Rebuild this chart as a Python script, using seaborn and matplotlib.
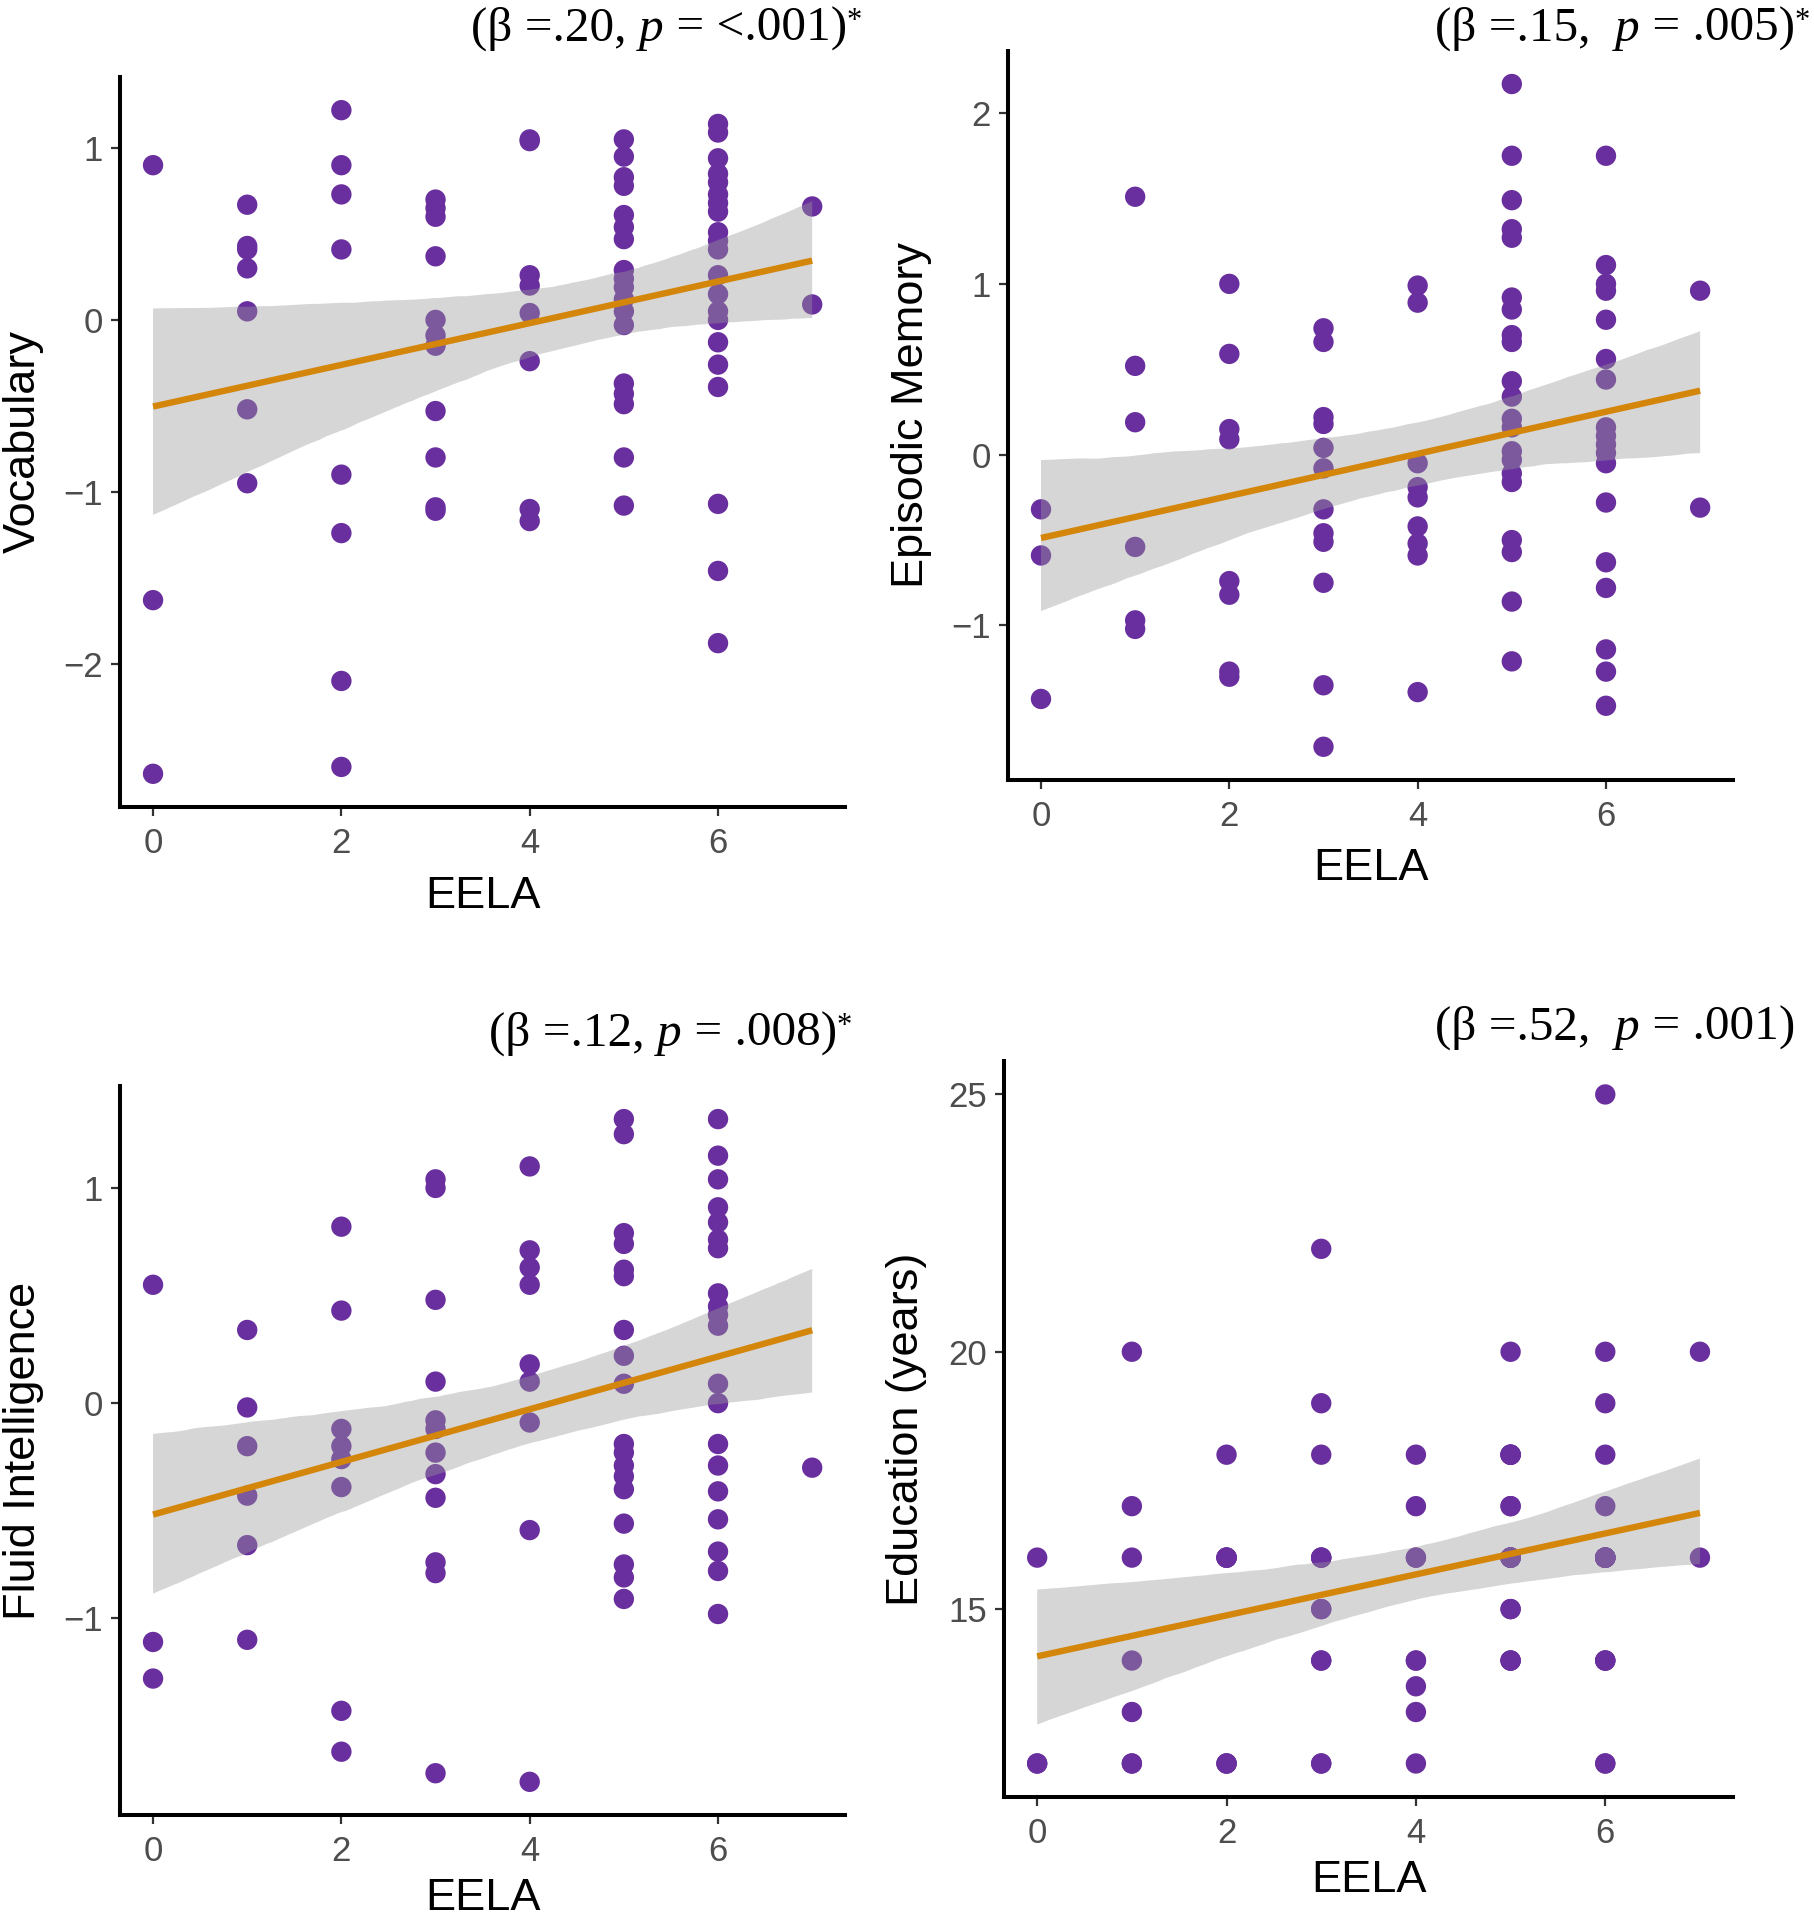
import numpy as np
import pandas as pd
import matplotlib
matplotlib.use("Agg")
import matplotlib.pyplot as plt
import seaborn as sns
from matplotlib.collections import PolyCollection
from matplotlib.offsetbox import TextArea, HPacker, AnchoredOffsetbox

# ---------------- data (y values listed per EELA level 0..7) ----------------
eela_levels = [0, 1, 2, 3, 4, 5, 6, 7]

vocabulary = [
    [0.90, -1.63, -2.64],
    [0.67, 0.43, 0.41, 0.30, 0.05, -0.52, -0.95],
    [1.22, 0.90, 0.73, 0.41, -0.90, -1.24, -2.10, -2.60],
    [0.70, 0.65, 0.60, 0.37, 0.00, -0.09, -0.15, -0.53, -0.80, -1.09, -1.11],
    [1.05, 1.04, 0.26, 0.20, 0.04, -0.24, -1.10, -1.17],
    [1.05, 0.95, 0.83, 0.78, 0.61, 0.54, 0.47, 0.29, 0.24, 0.19, 0.12, 0.05,
     -0.03, -0.37, -0.43, -0.49, -0.80, -1.08],
    [1.14, 1.09, 0.94, 0.85, 0.80, 0.73, 0.68, 0.63, 0.51, 0.46, 0.41, 0.26,
     0.15, 0.05, 0.00, -0.13, -0.26, -0.39, -1.07, -1.46, -1.88],
    [0.66, 0.09],
]

episodic_memory = [
    [-0.32, -0.59, -1.43],
    [1.51, 0.52, 0.19, -0.54, -0.97, -1.02],
    [1.00, 0.59, 0.15, 0.09, -0.74, -0.82, -1.27, -1.30],
    [0.74, 0.66, 0.22, 0.18, 0.04, -0.08, -0.32, -0.46, -0.51, -0.75, -1.35, -1.71],
    [0.99, 0.89, -0.05, -0.19, -0.25, -0.42, -0.52, -0.59, -1.39],
    [2.17, 1.75, 1.49, 1.32, 1.27, 0.92, 0.85, 0.70, 0.66, 0.43, 0.34, 0.21,
     0.16, 0.02, -0.03, -0.11, -0.16, -0.50, -0.57, -0.86, -1.21],
    [1.75, 1.11, 1.00, 0.96, 0.79, 0.56, 0.44, 0.16, 0.11, 0.06, 0.01, -0.05,
     -0.28, -0.63, -0.78, -1.14, -1.27, -1.47],
    [0.96, -0.31],
]

fluid_intelligence = [
    [0.55, -1.11, -1.28],
    [0.34, -0.02, -0.20, -0.43, -0.66, -1.10],
    [0.82, 0.43, -0.12, -0.20, -0.26, -0.39, -1.43, -1.62],
    [1.04, 1.00, 0.48, 0.10, -0.08, -0.12, -0.23, -0.33, -0.44, -0.74, -0.79, -1.72],
    [1.10, 0.71, 0.63, 0.55, 0.18, 0.10, -0.09, -0.59, -1.76],
    [1.32, 1.25, 0.79, 0.74, 0.62, 0.59, 0.34, 0.22, 0.09, -0.19, -0.23, -0.29,
     -0.34, -0.40, -0.56, -0.75, -0.81, -0.91],
    [1.32, 1.15, 1.04, 0.91, 0.84, 0.76, 0.72, 0.51, 0.45, 0.41, 0.36, 0.09,
     0.00, -0.19, -0.29, -0.41, -0.54, -0.69, -0.78, -0.98],
    [-0.30],
]

# education is in whole years, so many participants share a dot (overlapping points)
education_years = [
    [16, 12, 12],
    [20, 17, 16, 14, 13, 12, 12],
    [18, 16, 16, 16, 16, 12, 12, 12],
    [22, 19, 18, 16, 16, 15, 15, 14, 14, 12, 12, 16],
    [18, 17, 16, 16, 14, 14, 13.5, 13, 12],
    [20, 18, 18, 18, 18, 17, 17, 16, 16, 16, 16, 16, 16, 16, 15, 15, 14, 14, 14],
    [25, 20, 19, 18, 17, 16, 16, 16, 16, 16, 16, 16, 16, 16, 16, 14, 14, 14, 12, 12],
    [20, 16],
]

panel_ylabels = ["Vocabulary", "Episodic Memory", "Fluid Intelligence", "Education (years)"]
panel_yticks = [[-2, -1, 0, 1], [-1, 0, 1, 2], [-1, 0, 1], [15, 20, 25]]
x_ticks = [0, 2, 4, 6]
x_label = "EELA"

# annotation texts: (before p, p, after p, starred)
panel_titles = [
    ("(β =.20, ", "p", " = <.001)", True),
    ("(β =.15,  ", "p", " = .005)", True),
    ("(β =.12, ", "p", " = .008)", True),
    ("(β =.52,  ", "p", " = .001)", False),
]

# ---------------- style ----------------
POINT = "#6A2F9E"
LINE = "#D4860B"
SANS = "Liberation Sans"
SERIF = "Liberation Serif"

sns.set_theme(style="ticks")
plt.rcParams["font.family"] = [SANS, "DejaVu Sans"]

fig = plt.figure(figsize=(18.14, 19.20), dpi=100)

# axes rectangles (figure fractions)
rects = [
    [0.0662, 0.5797, 0.3997, 0.3802],
    [0.5557, 0.5938, 0.3997, 0.3797],
    [0.0662, 0.0547, 0.3997, 0.3797],
    [0.5535, 0.0641, 0.4019, 0.3833],
]
title_anchor = [(0.4752, 0.9734), (0.9978, 0.9734), (0.4697, 0.4500), (0.9896, 0.4531)]
xlabel_y = [-0.095, -0.093, -0.086, -0.086]

all_data = [vocabulary, episodic_memory, fluid_intelligence, education_years]

for i, values in enumerate(all_data):
    xs, ys = [], []
    for lvl, vals in zip(eela_levels, values):
        xs += [lvl] * len(vals)
        ys += list(vals)
    df = pd.DataFrame({"EELA": xs, "score": ys})

    ax = fig.add_axes(rects[i])
    sns.scatterplot(data=df, x="EELA", y="score", color=POINT, s=215,
                    edgecolor="none", linewidth=0, ax=ax, zorder=2, legend=False)
    sns.regplot(data=df, x="EELA", y="score", scatter=False, color=LINE,
                ci=95, n_boot=2000, seed=3, truncate=True,
                line_kws=dict(lw=4.6, zorder=4, solid_capstyle="butt"), ax=ax)
    for coll in ax.collections:
        if isinstance(coll, PolyCollection):
            coll.set_facecolor((0.6, 0.6, 0.6))
            coll.set_alpha(0.4)
            coll.set_edgecolor("none")
            coll.set_zorder(3)

    lo, hi = df["score"].min(), df["score"].max()
    r = hi - lo
    ax.set_ylim(lo - 0.05 * r, hi + 0.05 * r)
    ax.set_xlim(-0.35, 7.35)
    ax.set_xticks(x_ticks)
    ax.set_yticks(panel_yticks[i])

    ax.set_xlabel(x_label, fontsize=32.5, color="black", family=SANS)
    ax.set_ylabel(panel_ylabels[i], fontsize=32.5, color="black", family=SANS)
    ax.xaxis.set_label_coords(0.5, xlabel_y[i])
    ax.yaxis.set_label_coords(-0.105, 0.5)

    sns.despine(ax=ax)
    for s in ["left", "bottom"]:
        ax.spines[s].set_linewidth(2.9)
        ax.spines[s].set_color("black")
    ax.tick_params(axis="both", direction="out", length=6.5, width=1.6,
                   color="#333333", labelcolor="#4D4D4D", labelsize=25)
    ax.tick_params(axis="x", pad=8)
    ax.tick_params(axis="y", pad=6)
    for lab in ax.get_xticklabels() + ax.get_yticklabels():
        lab.set_family(SANS)

    # annotation with italic p and superscript star
    pre, pit, post, star = panel_titles[i]
    big = dict(fontsize=35.5, family=SERIF, color="black")
    kids = [TextArea(pre, textprops=big),
            TextArea(pit, textprops=dict(big, style="italic")),
            TextArea(post, textprops=big)]
    if star:
        kids.append(TextArea("*", textprops=dict(fontsize=22, family=SERIF, color="black")))
    packer = HPacker(children=kids, align="top", pad=0, sep=0)
    box = AnchoredOffsetbox(loc="lower right", child=packer, pad=0, borderpad=0,
                            frameon=False, bbox_to_anchor=title_anchor[i],
                            bbox_transform=fig.transFigure)
    fig.add_artist(box)

fig.savefig("out.png", dpi=100, facecolor="white")
